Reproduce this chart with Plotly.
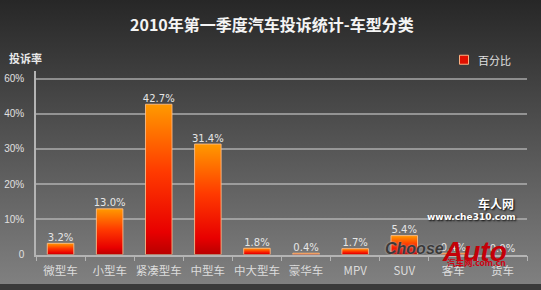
import plotly.graph_objects as go

categories = ["微型车", "小型车", "紧凑型车", "中型车", "中大型车", "豪华车", "MPV", "SUV", "客车", "货车"]
values = [3.2, 13.0, 42.7, 31.4, 1.8, 0.4, 1.7, 5.4, 0.4, 0.0]
ytick_vals = [0, 10, 20, 30, 40, 50]
ytick_text = ["0", "10%", "20%", "30%", "40%", "60%"]
title_text = "2010年第一季度汽车投诉统计-车型分类"
series_name = "百分比"
yaxis_title = "投诉率"

W, H = 541, 290
CJK = "Noto Sans CJK SC"


def px(x):
    return x / W


def py(y):
    return 1 - y / H


fig = go.Figure()

# background gradient (full figure)
fig.add_trace(go.Scatter(
    x=[0, 1, 1, 0, 0], y=[0, 0, 1, 1, 0], mode="lines", fill="toself",
    line=dict(width=0), hoverinfo="skip", showlegend=False,
    fillgradient=dict(type="vertical",
                      colorscale=[[0, "#808080"], [0.5, "#545454"], [1, "#272727"]]),
    xaxis="x", yaxis="y"))

# legend symbol (drawn manually)
fig.add_trace(go.Scatter(
    x=[px(464)], y=[py(61)], mode="markers", hoverinfo="skip", showlegend=False,
    marker=dict(symbol="square", size=9, color="#e01000",
                line=dict(color="#ffb080", width=1)),
    xaxis="x", yaxis="y"))

# bars as gradient-filled shapes derived from data
hw = 0.27
for i, v in enumerate(values):
    if v <= 0:
        continue
    fig.add_trace(go.Scatter(
        x=[i - hw, i - hw, i + hw, i + hw, i - hw],
        y=[0, v, v, 0, 0],
        mode="lines", fill="toself",
        line=dict(width=1, color="rgba(255,190,140,0.85)"),
        fillgradient=dict(type="vertical",
                          colorscale=[[0, "#b80000"], [0.15, "#e80000"], [0.55, "#ff3a00"], [1, "#ff9a00"]]),
        hoverinfo="skip", showlegend=False, xaxis="x2", yaxis="y2"))

# value labels
fig.add_trace(go.Scatter(
    x=list(range(len(values))), y=values, mode="text",
    text=[f"{v:.1f}%" for v in values], textposition="top center",
    textfont=dict(family="DejaVu Sans", size=10, color="#e6e6e6"),
    hoverinfo="skip", showlegend=False, xaxis="x2", yaxis="y2"))

fig.update_layout(
    width=W, height=H,
    margin=dict(l=0, r=0, t=0, b=0, pad=0),
    paper_bgcolor="#3a3a3a",
    plot_bgcolor="rgba(0,0,0,0)",
    font=dict(family=CJK, color="#e0e0e0"),
    showlegend=False,
    xaxis=dict(domain=[0, 1], range=[0, 1], visible=False, fixedrange=True),
    yaxis=dict(domain=[0, 1], range=[0, 1], visible=False, fixedrange=True),
    xaxis2=dict(domain=[px(36), px(527)], anchor="y2", range=[-0.5, len(categories) - 0.5],
                tickmode="array", tickvals=list(range(len(categories))), ticktext=categories,
                ticks="", showgrid=False, zeroline=False, ticklabelstandoff=5,
                showline=True, linecolor="#b4b4b4", linewidth=1.5,
                tickfont=dict(family=CJK, size=11.5, color="#dcdcdc"),
                minor=dict(ticks="outside", tick0=0.5, dtick=1, ticklen=5,
                           tickcolor="#b4b4b4", tickwidth=1, showgrid=False)),
    yaxis2=dict(domain=[py(260), py(73)], anchor="x2", range=[0, 52],
                tickmode="array", tickvals=ytick_vals, ticktext=ytick_text,
                showgrid=True, gridcolor="rgba(195,195,195,0.6)", gridwidth=1.5,
                zeroline=False, showline=True, linecolor="#b4b4b4", linewidth=1.5,
                ticks="", ticklabelstandoff=8,
                tickfont=dict(family="Liberation Sans", size=10, color="#e0e0e0")),
    annotations=[
        dict(text=f"<b>{title_text}</b>", x=px(272), y=py(24), xref="paper", yref="paper",
             xanchor="center", yanchor="middle", showarrow=False,
             font=dict(family=CJK, size=16, color="#f4f4f4")),
        dict(text=f"<b>{yaxis_title}</b>", x=px(7), y=py(59), xref="paper", yref="paper",
             xanchor="left", yanchor="middle", showarrow=False,
             font=dict(family=CJK, size=11, color="#e8e8e8")),
        dict(text=series_name, x=px(476), y=py(61), xref="paper", yref="paper",
             xanchor="left", yanchor="middle", showarrow=False,
             font=dict(family=CJK, size=11, color="#e0e0e0")),
        # watermarks
        dict(text="<b>车人网</b>", x=px(516), y=py(208), xref="paper", yref="paper",
             xanchor="right", yanchor="middle", showarrow=False,
             font=dict(family=CJK, size=12, color="#ffffff", shadow="1px 1px 2px #000")),
        dict(text="<b>www.che310.com</b>", x=px(518), y=py(222), xref="paper", yref="paper",
             xanchor="right", yanchor="middle", showarrow=False,
             font=dict(family="DejaVu Sans", size=9, color="#ffffff", shadow="1px 1px 2px #000")),
        dict(text="<b><i>Choose</i></b>", x=px(414), y=py(254), xref="paper", yref="paper",
             xanchor="center", yanchor="middle", showarrow=False,
             font=dict(family="Liberation Sans", size=16, color="#3a3a3a", shadow="0px 0px 2px #bbb")),
        dict(text="<b><i>Auto</i></b>", x=px(474), y=py(257), xref="paper", yref="paper",
             xanchor="center", yanchor="middle", showarrow=False,
             font=dict(family="Liberation Sans", size=28, color="#c40008")),
        dict(text="<b>汽车网.com.cn</b>", x=px(476), y=py(268), xref="paper", yref="paper",
             xanchor="center", yanchor="middle", showarrow=False,
             font=dict(family=CJK, size=8.5, color="#d00010")),
    ],
)

fig.write_html("out.html")
